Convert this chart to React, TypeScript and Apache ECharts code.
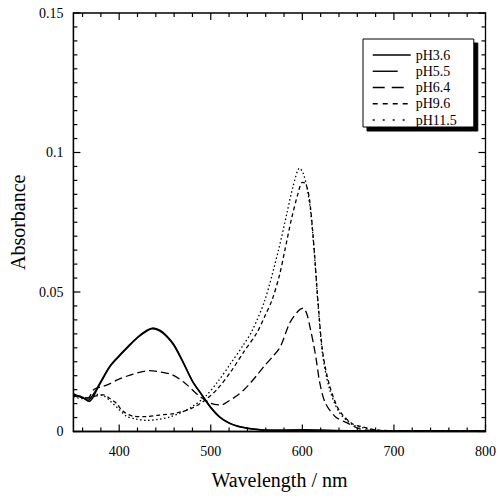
import React, { useEffect, useRef } from "react";
import * as echarts from "echarts";

// Wavelength (nm) / absorbance pairs
const wl36 = [350, 355, 360, 366, 370, 375, 380, 390, 400, 410, 420, 430, 437, 445, 452, 460, 470, 480, 490, 500, 510, 520, 530, 540, 550, 560, 580, 600, 620, 650, 700, 750, 800];
const abs36 = [0.0132, 0.0128, 0.0122, 0.0112, 0.0125, 0.015, 0.018, 0.0235, 0.0272, 0.0306, 0.0338, 0.0362, 0.0371, 0.0362, 0.0342, 0.031, 0.0248, 0.018, 0.0133, 0.0085, 0.005, 0.003, 0.0018, 0.0012, 0.0007, 0.0004, 0.0003, 0.0004, 0.0002, 0.0002, 0.0001, 0.0001, 0.0002];

const wl55 = [350, 356, 362, 367, 371, 376, 381, 390, 400, 410, 420, 430, 436, 444, 452, 460, 470, 480, 490, 500, 510, 520, 530, 540, 550, 560, 600, 650, 700, 800];
const abs55 = [0.0136, 0.0126, 0.0118, 0.0108, 0.012, 0.0152, 0.0182, 0.0233, 0.027, 0.0304, 0.0336, 0.036, 0.0368, 0.0361, 0.034, 0.0307, 0.0246, 0.0181, 0.0132, 0.0087, 0.0052, 0.0031, 0.0019, 0.0012, 0.0008, 0.0005, 0.0006, 0.0003, 0.0002, 0.0001];

const wl64 = [350, 358, 366, 372, 380, 387, 398, 408, 420, 433, 445, 458, 472, 486, 500, 511, 520, 530, 536, 543, 550, 558, 567, 576, 586, 595, 601, 605, 609, 613, 616, 619, 625, 636, 650, 661, 670, 700, 750, 800];
const abs64 = [0.013, 0.0126, 0.012, 0.015, 0.016, 0.0167, 0.0185, 0.0198, 0.021, 0.0218, 0.0213, 0.0203, 0.0173, 0.0131, 0.0101, 0.0095, 0.011, 0.0132, 0.0149, 0.0173, 0.02, 0.0233, 0.0266, 0.0304, 0.0388, 0.043, 0.0442, 0.042, 0.0364, 0.03, 0.024, 0.0175, 0.0103, 0.0053, 0.0029, 0.0011, 0.0005, 0.0002, 0.0001, 0.0001];

const wl96 = [350, 360, 368, 375, 383, 390, 397, 404, 415, 429, 444, 461, 479, 494, 508, 522, 536, 550, 560, 567, 575, 581, 588, 595, 600, 603, 606, 609, 613, 617, 622, 629, 640, 654, 665, 680, 700, 750, 800];
const abs96 = [0.0128, 0.0122, 0.012, 0.0128, 0.0131, 0.0118, 0.0101, 0.0073, 0.0055, 0.0053, 0.0059, 0.0065, 0.0083, 0.0113, 0.0155, 0.0215, 0.0285, 0.0352, 0.042, 0.0472, 0.056, 0.0651, 0.076, 0.085, 0.0893, 0.089, 0.0865, 0.08, 0.065, 0.047, 0.029, 0.0173, 0.0077, 0.0029, 0.0017, 0.0006, 0.0003, 0.0001, 0.0001];

const wl115 = [350, 360, 368, 376, 383, 390, 398, 408, 418, 430, 442, 455, 468, 480, 494, 508, 522, 536, 545, 559, 574, 583, 590, 597, 601, 605, 609, 613, 617, 622, 629, 640, 654, 665, 680, 700, 750, 800];
const abs115 = [0.0125, 0.0118, 0.0125, 0.0133, 0.0128, 0.011, 0.0085, 0.0055, 0.0045, 0.004, 0.0043, 0.0052, 0.0068, 0.009, 0.0125, 0.018, 0.0245, 0.0312, 0.036, 0.047, 0.0651, 0.078, 0.088, 0.0944, 0.0925, 0.0875, 0.079, 0.064, 0.046, 0.028, 0.016, 0.007, 0.0026, 0.0014, 0.0005, 0.0002, 0.0001, 0.0001];

const seriesNames = ["pH3.6", "pH5.5", "pH6.4", "pH9.6", "pH11.5"];

// Axis ranges and tick positions
const X_MIN = 350;
const X_MAX = 800;
const Y_MIN = 0;
const Y_MAX = 0.15;
const xMajorTicks = [400, 500, 600, 700, 800];
const xMinorTicks = [360, 380, 420, 440, 460, 480, 520, 540, 560, 580, 620, 640, 660, 680, 720, 740, 760, 780];
const yMajorTicks = [0, 0.05, 0.1, 0.15];
const yMinorTicks = [0.005, 0.01, 0.015, 0.02, 0.025, 0.03, 0.035, 0.04, 0.045, 0.055, 0.06, 0.065, 0.07, 0.075, 0.08, 0.085, 0.09, 0.095, 0.105, 0.11, 0.115, 0.12, 0.125, 0.13, 0.135, 0.14, 0.145];

const FONT = '"Liberation Serif", "Times New Roman", serif';

function pairs(x: number[], y: number[]) {
  return x.map((v, i) => [v, y[i]]);
}

export default function App() {
  const ref = useRef<HTMLDivElement>(null);
  useEffect(() => {
    if (!ref.current) return;
    const chart = echarts.init(ref.current, null, { renderer: "svg" });
    const tickLine = { stroke: "#000", lineWidth: 1.2 };

    const xTickSeries = (vals: number[], len: number) => ({
      type: "custom",
      silent: true,
      clip: false,
      z: 5,
      data: vals.map((v) => [v, Y_MIN]),
      renderItem: (_p: any, api: any) => {
        const x = api.value(0);
        const b = api.coord([x, Y_MIN]);
        const t = api.coord([x, Y_MAX]);
        return {
          type: "group",
          children: [
            { type: "line", shape: { x1: b[0], y1: b[1], x2: b[0], y2: b[1] - len }, style: tickLine },
            { type: "line", shape: { x1: t[0], y1: t[1], x2: t[0], y2: t[1] + len }, style: tickLine },
          ],
        };
      },
    });
    const yTickSeries = (vals: number[], len: number) => ({
      type: "custom",
      silent: true,
      clip: false,
      z: 5,
      data: vals.map((v) => [X_MIN, v]),
      renderItem: (_p: any, api: any) => {
        const y = api.value(1);
        const l = api.coord([X_MIN, y]);
        const r = api.coord([X_MAX, y]);
        return {
          type: "group",
          children: [
            { type: "line", shape: { x1: l[0], y1: l[1], x2: l[0] + len, y2: l[1] }, style: tickLine },
            { type: "line", shape: { x1: r[0], y1: r[1], x2: r[0] - len, y2: r[1] }, style: tickLine },
          ],
        };
      },
    });
    const frameSeries = {
      type: "custom",
      silent: true,
      clip: false,
      z: 5,
      data: [[X_MIN, Y_MIN]],
      renderItem: (_p: any, api: any) => {
        const tl = api.coord([X_MIN, Y_MAX]);
        const br = api.coord([X_MAX, Y_MIN]);
        return {
          type: "rect",
          shape: { x: tl[0], y: tl[1], width: br[0] - tl[0], height: br[1] - tl[1] },
          style: { fill: "none", stroke: "#000", lineWidth: 1.3 },
        };
      },
    };

    const dashes: any[] = ["solid", "solid", [8, 4], [4, 3], [1.5, 2.5]];
    const legendDash: any[] = ["solid", [25, 40], [12, 7], [5, 5], [2, 8]];
    const datasets = [
      pairs(wl36, abs36),
      pairs(wl55, abs55),
      pairs(wl64, abs64),
      pairs(wl96, abs96),
      pairs(wl115, abs115),
    ];
    const hiddenSymbol = { color: "rgba(0,0,0,0)", opacity: 0, borderWidth: 0 };

    chart.setOption({
      animation: false,
      grid: { left: 73, right: 6, top: 13, height: 418.5 },
      legend: {
        orient: "vertical",
        left: 363,
        top: 39,
        selectedMode: false,
        itemWidth: 38,
        itemHeight: 14,
        itemGap: 2.25,
        padding: [9, 17, 0, 9],
        backgroundColor: "#fff",
        borderColor: "#000",
        borderWidth: 1,
        shadowColor: "#000",
        shadowBlur: 0,
        shadowOffsetX: 4,
        shadowOffsetY: 4,
        itemStyle: hiddenSymbol,
        textStyle: { fontFamily: FONT, fontSize: 14, lineHeight: 14, color: "#000" },
        data: seriesNames.map((n, i) => ({
          name: n,
          itemStyle: hiddenSymbol,
          lineStyle: { type: legendDash[i], width: 1.4, color: "#000" },
        })),
      },
      xAxis: {
        type: "value",
        min: X_MIN,
        max: X_MAX,
        position: "bottom",
        name: "Wavelength / nm",
        nameLocation: "middle",
        nameGap: 38,
        nameTextStyle: { fontFamily: FONT, fontSize: 20, color: "#000" },
        axisLine: { show: true, onZero: false, lineStyle: { color: "#000", width: 1.3 } },
        axisTick: { show: false },
        minorTick: { show: false },
        splitLine: { show: false },
        axisLabel: { show: true, customValues: xMajorTicks, margin: 13, fontFamily: FONT, fontSize: 14, color: "#000" },
      },
      yAxis: {
        type: "value",
        min: Y_MIN,
        max: Y_MAX,
        interval: 0.05,
        position: "left",
        name: "Absorbance",
        nameLocation: "middle",
        nameGap: 41,
        nameTextStyle: { fontFamily: FONT, fontSize: 20, color: "#000" },
        axisLine: { show: true, onZero: false, lineStyle: { color: "#000", width: 1.3 } },
        axisTick: { show: false },
        minorTick: { show: false },
        splitLine: { show: false },
        axisLabel: { margin: 10, fontFamily: FONT, fontSize: 14, color: "#000" },
      },
      series: [
        ...datasets.map((d, i) => ({
          type: "line",
          name: seriesNames[i],
          data: d,
          symbol: "none",
          smooth: 0.3,
          color: "#000",
          lineStyle: { color: "#000", width: i < 2 ? 1.5 : 1.3, type: dashes[i] },
        })),
        frameSeries,
        xTickSeries(xMajorTicks, 7),
        xTickSeries(xMinorTicks, 4),
        yTickSeries(yMajorTicks, 7),
        yTickSeries(yMinorTicks, 4),
      ],
    });
    return () => chart.dispose();
  }, []);
  return <div ref={ref} style={{ position: "absolute", left: 0, top: 0, width: 499, height: 501 }} />;
}
